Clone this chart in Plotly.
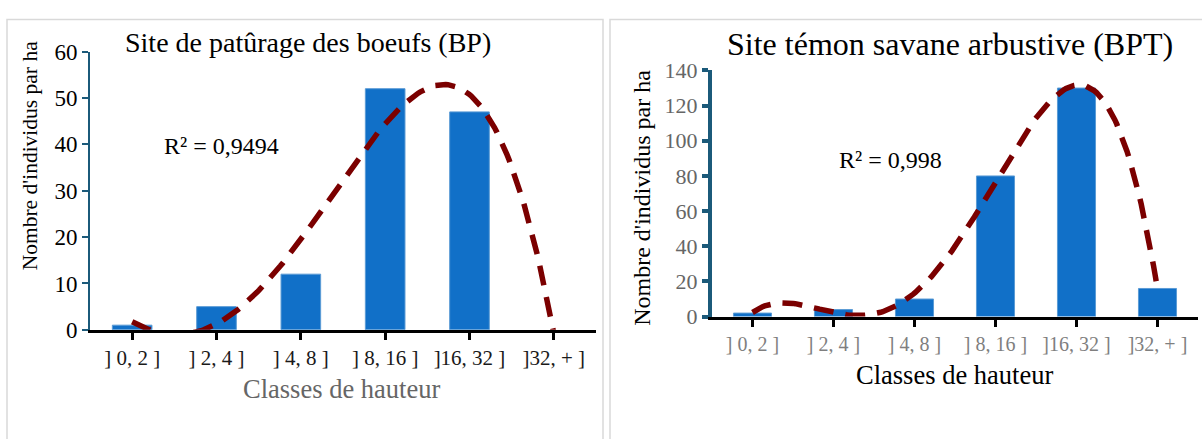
import numpy as np
import plotly.graph_objects as go

categories = ["] 0, 2 ]", "] 2, 4 ]", "] 4, 8 ]", "] 8, 16 ]", "]16, 32 ]", "]32, + ]"]
bp_values = [1, 5, 12, 52, 47, 0]
bpt_values = [2, 4, 10, 80, 130, 16]
bp_title = "Site de patûrage des boeufs (BP)"
bpt_title = "Site témon savane arbustive (BPT)"
bp_r2 = "R² = 0,9494"
bpt_r2 = "R² = 0,998"
trend_order = 4

W, H = 1202, 439
def px(x): return x / W
def py(y): return 1 - y / H

def trend(vals, order):
    x = np.arange(1, len(vals) + 1)
    c = np.polyfit(x, vals, order)
    xs = np.linspace(1, len(vals), 200)
    return xs, np.polyval(c, xs)

def bar_marker(vals):
    return dict(color="#1170C8", line=dict(color="#5B9BD5", width=[1 if v > 0 else 0 for v in vals]))

fig = go.Figure()
xi = list(range(1, len(categories) + 1))
fig.add_trace(go.Bar(x=xi, y=bp_values, marker=bar_marker(bp_values), xaxis="x", yaxis="y", showlegend=False))
fig.add_trace(go.Bar(x=xi, y=bpt_values, marker=bar_marker(bpt_values), xaxis="x2", yaxis="y2", showlegend=False))

line_style = dict(color="#7B0000", width=5.5, dash="20px,12px")
xs, ys = trend(bp_values, trend_order)
fig.add_trace(go.Scatter(x=xs, y=ys, mode="lines", line=line_style, xaxis="x", yaxis="y", showlegend=False))
xs2, ys2 = trend(bpt_values, trend_order)
fig.add_trace(go.Scatter(x=xs2, y=ys2, mode="lines", line=line_style, xaxis="x2", yaxis="y2", showlegend=False))

serif = "Liberation Serif"
teal = "#1B5A7A"

def ann(text, x, y, size, color="black", angle=0):
    return dict(text=text, xref="paper", yref="paper", x=px(x), y=py(y), showarrow=False,
                xanchor="center", yanchor="middle", textangle=angle,
                font=dict(family=serif, size=size, color=color))

fig.update_layout(
    width=W, height=H, margin=dict(l=0, r=0, t=0, b=0),
    paper_bgcolor="white", plot_bgcolor="white", bargap=0.53, hovermode=False,
    font=dict(family=serif, color="black"),
    xaxis=dict(domain=[px(90), px(596)], range=[0.5, 6.5], tickvals=xi, ticktext=categories,
               showline=True, linecolor="black", linewidth=3, ticks="outside", tickcolor="black",
               ticklen=7, tickwidth=3, showgrid=False, zeroline=False,
               tickfont=dict(size=21, color="#1A1A1A"), anchor="y"),
    yaxis=dict(domain=[py(337), py(42)], range=[0, 60], dtick=10, showline=True, linecolor=teal,
               linewidth=2, ticks="outside", tickcolor=teal, ticklen=6, tickwidth=2, showgrid=False,
               zeroline=False, tickfont=dict(size=23, color="black"), anchor="x"),
    xaxis2=dict(domain=[px(712), px(1198)], range=[0.5, 6.5], tickvals=xi, ticktext=categories,
                showline=True, linecolor="black", linewidth=3, ticks="outside", tickcolor="black",
                ticklen=7, tickwidth=3, showgrid=False, zeroline=False,
                tickfont=dict(size=20, color="#7F7F7F"), anchor="y2"),
    yaxis2=dict(domain=[py(323), py(62)], range=[0, 140], dtick=20, showline=True, linecolor=teal,
                linewidth=4, ticks="outside", tickcolor=teal, ticklen=6, tickwidth=4, showgrid=False,
                zeroline=False, tickfont=dict(size=22, color="#666666"), anchor="x2"),
    shapes=[
        dict(type="rect", xref="paper", yref="paper", x0=px(7), x1=px(603), y0=-0.05, y1=py(8),
             line=dict(color="#D9D9D9", width=1.5)),
        dict(type="rect", xref="paper", yref="paper", x0=px(610), x1=1.01, y0=-0.05, y1=py(8),
             line=dict(color="#D9D9D9", width=1.5)),
    ],
    annotations=[
        ann(bp_title, 308, 32, 28),
        ann(bpt_title, 950, 34, 32),
        ann(bp_r2, 221, 142, 24),
        ann(bpt_r2, 890, 157, 24),
        ann("Nombre d'individus par ha", 30, 153, 21.5, angle=-90),
        ann("Nombre d'individus par ha", 642, 197, 24, angle=-90),
        ann("Classes de hauteur", 341, 400, 26.5, color="#666666"),
        ann("Classes de hauteur", 954, 385, 26.5),
    ],
)
page_fix = ("document.documentElement.style.margin='0';document.documentElement.style.overflow='hidden';"
            "document.body.style.margin='0';document.body.style.overflow='hidden';")
fig.write_html("out.html", post_script=page_fix, config={"displayModeBar": False, "staticPlot": True})
